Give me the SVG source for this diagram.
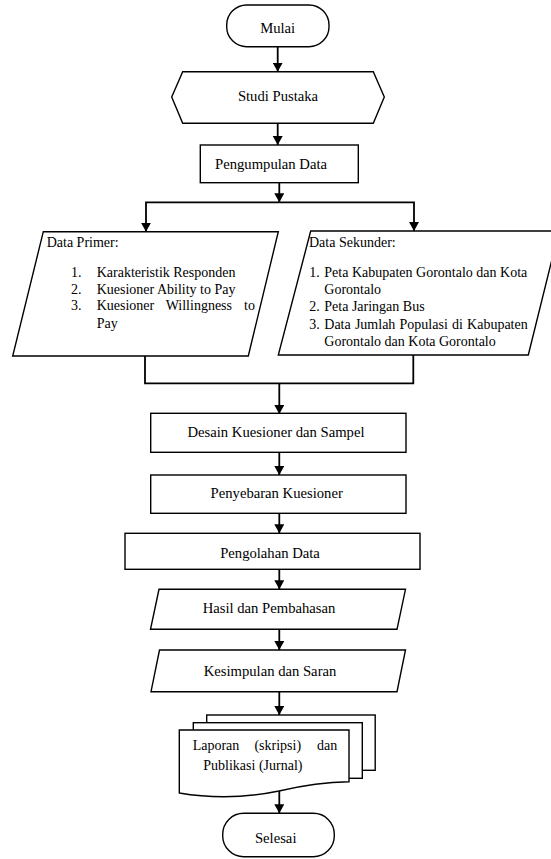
<svg xmlns="http://www.w3.org/2000/svg" width="551" height="859" viewBox="0 0 551 859">
<style>
.s{fill:#fff;stroke:#000;stroke-width:1.4}
.c{fill:none;stroke:#000;stroke-width:1.8}
text{font-family:"Liberation Serif","Times New Roman",serif;fill:#000}
.t{font-size:14.67px;text-anchor:middle}
.l{font-size:14px}
</style>
<defs>
<marker id="ah" markerUnits="userSpaceOnUse" markerWidth="9" markerHeight="10" viewBox="0 0 9 10" refX="9" refY="5" orient="auto">
<path d="M0,0 L9,5 L0,10 z" fill="#000"/>
</marker>
</defs>
<rect width="551" height="859" fill="#fff"/>
<g id="connectors">
<path class="c" d="M277.7,46.7 V71.7" marker-end="url(#ah)"/>
<path class="c" d="M277.7,123.3 V145" marker-end="url(#ah)"/>
<path class="c" d="M279.3,182.7 V202.3" marker-end="url(#ah)"/>
<path class="c" d="M279.3,202.3 H146 V231.7" marker-end="url(#ah)"/>
<path class="c" d="M279.3,202.3 H414 V231" marker-end="url(#ah)"/>
<path class="c" d="M145,356 V383.3 H413.3 V355"/>
<path class="c" d="M279.3,383.3 V414" marker-end="url(#ah)"/>
<path class="c" d="M279.3,452.3 V475" marker-end="url(#ah)"/>
<path class="c" d="M279.3,513.3 V533.3" marker-end="url(#ah)"/>
<path class="c" d="M279.3,569.3 V589.3" marker-end="url(#ah)"/>
<path class="c" d="M279.3,629.3 V650" marker-end="url(#ah)"/>
<path class="c" d="M279.3,691.7 V715" marker-end="url(#ah)"/>
<path class="c" d="M279.3,791 V813.3" marker-end="url(#ah)"/>
</g>
<g id="mulai">
<rect class="s" x="226.7" y="5" width="102.3" height="41.7" rx="20" ry="20"/>
<text class="t" x="277.7" y="33">Mulai</text>
</g>
<g id="studi-pustaka">
<polygon class="s" points="171.7,97 182.7,71.7 373.3,71.7 384.3,97 373.3,123.3 182.7,123.3"/>
<text class="t" x="278" y="101">Studi Pustaka</text>
</g>
<g id="pengumpulan-data">
<rect class="s" x="200.3" y="145" width="158" height="37.7"/>
<text class="t" x="271" y="169">Pengumpulan Data</text>
</g>
<g id="data-primer">
<polygon class="s" points="43.3,231.7 278.3,231.7 248.3,356 12.7,356"/>
<text class="l" x="46.7" y="246.5">Data Primer:</text>
<text class="l" x="71" y="277">1.</text>
<text class="l" x="96.7" y="277">Karakteristik Responden</text>
<text class="l" x="71" y="294">2.</text>
<text class="l" x="96.7" y="294">Kuesioner Ability to Pay</text>
<text class="l" x="71" y="310">3.</text>
<text class="l" x="96.7" y="310">Kuesioner</text>
<text class="l" x="165.7" y="310">Willingness</text>
<text class="l" x="255" y="310" text-anchor="end">to</text>
<text class="l" x="96.7" y="328">Pay</text>
</g>
<g id="data-sekunder">
<polygon class="s" points="310.7,231 559,231 528.3,355 278.3,355"/>
<text class="l" x="309" y="246.5">Data Sekunder:</text>
<text class="l" x="309.3" y="277">1.</text>
<text class="l" x="324.3" y="277">Peta Kabupaten Gorontalo dan Kota</text>
<text class="l" x="324.3" y="294">Gorontalo</text>
<text class="l" x="309.3" y="311">2.</text>
<text class="l" x="324.3" y="311">Peta Jaringan Bus</text>
<text class="l" x="309.3" y="329">3.</text>
<text class="l" x="324.3" y="329" word-spacing="0.7">Data Jumlah Populasi di Kabupaten</text>
<text class="l" x="324.3" y="346">Gorontalo dan Kota Gorontalo</text>
</g>
<g id="desain-kuesioner">
<rect class="s" x="150.7" y="413.3" width="255.3" height="39"/>
<text class="t" x="276" y="437">Desain Kuesioner dan Sampel</text>
</g>
<g id="penyebaran-kuesioner">
<rect class="s" x="150.7" y="475" width="255.3" height="38.3"/>
<text class="t" x="276.7" y="497.5">Penyebaran Kuesioner</text>
</g>
<g id="pengolahan-data">
<rect class="s" x="125" y="533.3" width="295" height="36"/>
<text class="t" x="270" y="558">Pengolahan Data</text>
</g>
<g id="hasil-pembahasan">
<polygon class="s" points="159,589.3 405.5,589.3 397,629.3 150.5,629.3"/>
<text class="t" x="269" y="613">Hasil dan Pembahasan</text>
</g>
<g id="kesimpulan-saran">
<polygon class="s" points="159.5,650 405.5,650 397,691.7 151,691.7"/>
<text class="t" x="270" y="676">Kesimpulan dan Saran</text>
</g>
<g id="laporan">
<rect class="s" x="206.7" y="715" width="168.5" height="55.3"/>
<rect class="s" x="193.3" y="722.7" width="169" height="55.6"/>
<path class="s" d="M179.3,730 H349 V781.7 C320,782 300,786 279,791 C250,797 215,799 179.3,793 Z"/>
<text class="l" x="192.7" y="750" font-size="14.67">Laporan</text>
<text class="l" x="254.4" y="750" font-size="14.67">(skripsi)</text>
<text class="l" x="337.3" y="750" font-size="14.67" text-anchor="end">dan</text>
<text class="l" x="203.3" y="770" font-size="14.67">Publikasi (Jurnal)</text>
</g>
<g id="selesai">
<rect class="s" x="222.7" y="813.3" width="111.6" height="43.4" rx="21" ry="21"/>
<text class="t" x="275.7" y="843">Selesai</text>
</g>
</svg>
